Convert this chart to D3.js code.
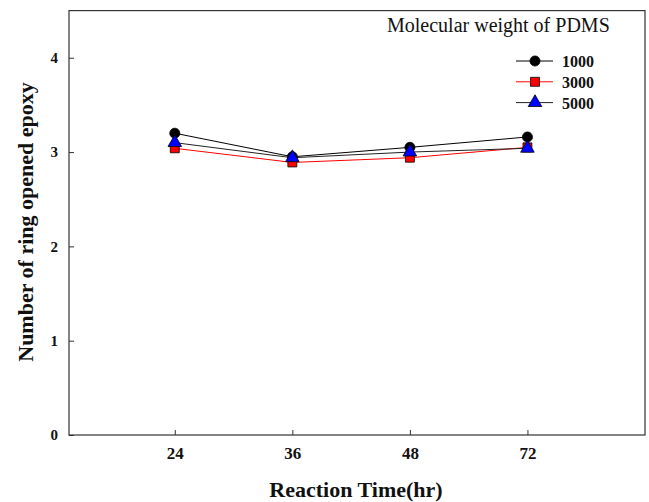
<!DOCTYPE html>
<html>
<head>
<meta charset="utf-8">
<script src="https://cdn.jsdelivr.net/npm/d3@7"></script>
<style>
  body { margin: 0; background: #fff; }
  text { font-family: "Liberation Serif", "Times New Roman", serif; }
</style>
</head>
<body>
<svg id="chart"></svg>
<script>
var width = 649, height = 502;

var times = ["24", "36", "48", "72"];
var yTicks = [0, 1, 2, 3, 4];
var mw1000 = [3.20, 2.95, 3.05, 3.16];
var mw3000 = [3.04, 2.89, 2.94, 3.05];
var mw5000 = [3.10, 2.94, 3.00, 3.04];

var series = [
    {name: "1000", values: mw1000, line: "#000", fill: "#000", shape: d3.symbolCircle},
    {name: "3000", values: mw3000, line: "#ff0000", fill: "#ff0000", shape: d3.symbolSquare},
    {name: "5000", values: mw5000, line: "#222", fill: "#0000ff", shape: d3.symbolTriangle}
];

function markSize(shape) {
    return shape === d3.symbolTriangle ? 80 : 80;
}

var svg = d3.select("#chart")
    .attr("width", width)
    .attr("height", height);

var x = d3.scaleLinear().domain([0.1, 5]).range([69, 645]);
var y = d3.scaleLinear().domain([0, 4.5]).range([435, 10.6]);

// frame
svg.append("rect")
    .attr("x", x(0.1)).attr("y", y(4.5))
    .attr("width", x(5) - x(0.1)).attr("height", y(0) - y(4.5))
    .attr("fill", "none").attr("stroke", "#333").attr("stroke-width", 1.2);

// y axis, ticks inside
var yAxis = svg.append("g")
    .attr("transform", "translate(" + x(0.1) + ",0)")
    .call(d3.axisLeft(y).tickValues(yTicks).tickSize(-5).tickPadding(11).tickFormat(d3.format("d")));
yAxis.select(".domain").remove();
yAxis.selectAll("line").attr("stroke", "#333");
yAxis.selectAll("text")
    .attr("font-size", 15).attr("font-weight", "bold")
    .attr("font-family", "Liberation Serif, serif").attr("fill", "#111");

// x axis, ticks inside
var xAxis = svg.append("g")
    .attr("transform", "translate(0," + y(0) + ")")
    .call(d3.axisBottom(x).tickValues([1, 2, 3, 4]).tickSize(-5).tickPadding(12)
        .tickFormat(function(d) { return times[d - 1]; }));
xAxis.select(".domain").remove();
xAxis.selectAll("line").attr("stroke", "#333");
xAxis.selectAll("text")
    .attr("font-size", 17).attr("font-weight", "bold")
    .attr("font-family", "Liberation Serif, serif").attr("fill", "#111");

// axis titles
svg.append("text")
    .attr("x", 356).attr("y", 497)
    .attr("text-anchor", "middle")
    .attr("font-size", 22).attr("font-weight", "bold").attr("fill", "#111")
    .text("Reaction Time(hr)");

svg.append("text")
    .attr("transform", "translate(33,222)rotate(-90)")
    .attr("text-anchor", "middle")
    .attr("font-size", 22).attr("font-weight", "bold").attr("fill", "#111")
    .text("Number of  ring opened epoxy");

var line = d3.line()
    .x(function(d, i) { return x(i + 1); })
    .y(function(d) { return y(d); });

// lines first, then markers
series.forEach(function(s) {
    svg.append("path")
        .attr("d", line(s.values))
        .attr("fill", "none")
        .attr("stroke", s.line)
        .attr("stroke-width", 1);
});

series.forEach(function(s) {
    svg.append("g").selectAll("path")
        .data(s.values)
        .enter().append("path")
        .attr("transform", function(d, i) { return "translate(" + x(i + 1) + "," + y(d) + ")"; })
        .attr("d", d3.symbol().type(s.shape).size(markSize(s.shape)))
        .attr("fill", s.fill)
        .attr("stroke", "#000")
        .attr("stroke-width", 0.8);
});

// legend
svg.append("text")
    .attr("x", 387).attr("y", 32)
    .attr("font-size", 20).attr("fill", "#111")
    .text("Molecular weight of PDMS");

var legend = svg.append("g").selectAll("g")
    .data(series)
    .enter().append("g")
    .attr("transform", function(d, i) { return "translate(0," + (61 + i * 20.8) + ")"; });

legend.append("line")
    .attr("x1", 516).attr("x2", 553)
    .attr("stroke", function(d) { return d.line; })
    .attr("stroke-width", 1);

legend.append("path")
    .attr("transform", "translate(535,0)")
    .attr("d", function(d) { return d3.symbol().type(d.shape).size(markSize(d.shape))(); })
    .attr("fill", function(d) { return d.fill; })
    .attr("stroke", "#000")
    .attr("stroke-width", 0.8);

legend.append("text")
    .attr("x", 562).attr("y", 6)
    .attr("font-size", 16).attr("font-weight", "bold").attr("fill", "#111")
    .text(function(d) { return d.name; });
</script>
</body>
</html>
